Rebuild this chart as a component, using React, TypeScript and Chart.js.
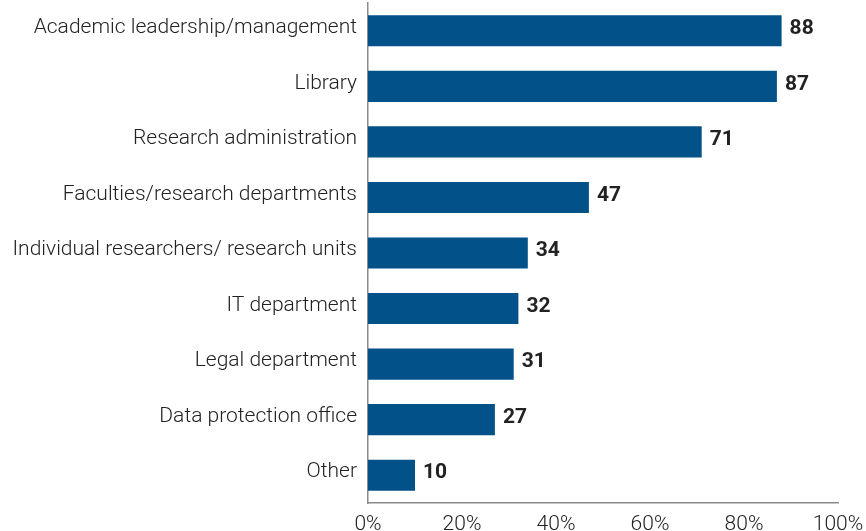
import React, { useEffect, useRef } from "react";
import { Chart, registerables } from "chart.js";

Chart.register(...registerables);

const categories = [
  "Academic leadership/management",
  "Library",
  "Research administration",
  "Faculties/research departments",
  "Individual researchers/ research units",
  "IT department",
  "Legal department",
  "Data protection office",
  "Other",
];
const values = [88, 87, 71, 47, 34, 32, 31, 27, 10];
const xTicks = [0, 20, 40, 60, 80, 100];

const FONT = "Roboto, 'Noto Sans', sans-serif";

const valueLabels = {
  id: "valueLabels",
  afterDatasetsDraw(chart: any) {
    const ctx = chart.ctx;
    const meta = chart.getDatasetMeta(0);
    ctx.save();
    ctx.font = `bold 21px ${FONT}`;
    ctx.fillStyle = "#222222";
    ctx.textAlign = "left";
    ctx.textBaseline = "middle";
    meta.data.forEach((bar: any, i: number) => {
      ctx.fillText(String(values[i]), bar.x + 8, bar.y - 2);
    });
    ctx.restore();
  },
};

export default function App() {
  const ref = useRef<HTMLCanvasElement>(null);
  useEffect(() => {
    document.body.style.margin = "0";
    const chart = new Chart(ref.current!, {
      type: "bar",
      data: {
        labels: categories,
        datasets: [
          {
            data: values,
            backgroundColor: "#025189",
            borderWidth: 0,
            barPercentage: 0.56,
            categoryPercentage: 1,
          },
        ],
      },
      options: {
        indexAxis: "y",
        animation: false,
        responsive: false,
        layout: { padding: { top: 3, right: 28, left: 0, bottom: 0 } },
        plugins: { legend: { display: false }, tooltip: { enabled: false } },
        scales: {
          x: {
            min: 0,
            max: 100,
            afterBuildTicks(scale: any) {
              scale.ticks = xTicks.map((v) => ({ value: v }));
            },
            afterFit(scale: any) {
              scale.height = 28;
              scale.paddingLeft = 0;
              scale.paddingRight = 0;
            },
            grid: { display: false, drawTicks: false },
            border: { display: true, color: "#8a8a8a", width: 1.5 },
            ticks: {
              padding: 9,
              color: "#222222",
              font: { family: FONT, size: 21, weight: "300" },
              callback: (v: any) => `${v}%`,
            },
          },
          y: {
            afterFit(scale: any) {
              scale.width = 368;
              scale.paddingTop = 0;
              scale.paddingBottom = 0;
            },
            grid: { display: false, drawTicks: false },
            border: { display: true, color: "#8a8a8a", width: 1.5 },
            ticks: {
              padding: 11,
              labelOffset: -3,
              color: "#222222",
              font: { family: FONT, size: 21, weight: "300" },
            },
          },
        },
      },
      plugins: [valueLabels],
    });
    return () => chart.destroy();
  }, []);
  return (
    <div style={{ width: 866, height: 531 }}>
      <canvas ref={ref} width={866} height={531} />
    </div>
  );
}
